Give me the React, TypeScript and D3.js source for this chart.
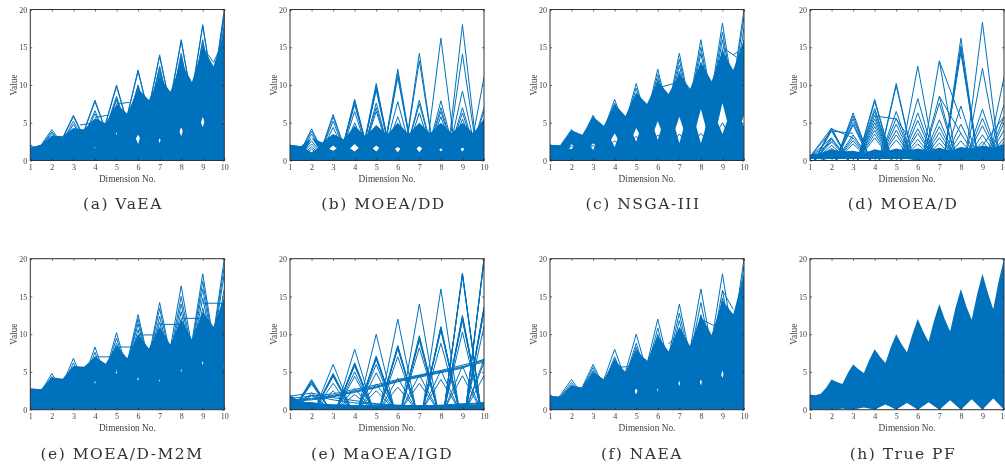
import { useEffect, useRef } from 'react';
import * as d3 from 'd3';

const BLUE = '#0072BD';
const INK = '#404040';
const W = 194;
const H = 151;

const dimensions = [1, 2, 3, 4, 5, 6, 7, 8, 9, 10];
const valueTicks = [0, 5, 10, 15, 20];
const halfDims = [1, 1.5, 2, 2.5, 3, 3.5, 4, 4.5, 5, 5.5, 6, 6.5, 7, 7.5, 8, 8.5, 9, 9.5, 10];
const quarterDims = [1, 1.25, 1.5, 1.75, 2, 2.25, 2.5, 2.75, 3, 3.25, 3.5, 3.75, 4, 4.25, 4.5, 4.75, 5, 5.25, 5.5, 5.75, 6, 6.25, 6.5, 6.75, 7, 7.25, 7.5, 7.75, 8, 8.25, 8.5, 8.75, 9, 9.25, 9.5, 9.75, 10];

// (a) VaEA
const vaeaFloor = [1.7, 2.1, 1, 3, 1.1, 4, 1.6, 4.8, 3.4, 5.8, 2.2, 7, 2.3, 7, 3.2, 8, 4.4, 9, 4.8];
const vaeaGapTop = [0, 0, 1, 0.5, 1, 0.5, 1.8, 0.5, 3.7, 1, 3.4, 1, 2.9, 1, 4.4, 1, 5.8, 1.5, 5.4];
const vaeaCeil = [1.7, 2.1, 3.3, 3.2, 4.3, 4.1, 5.6, 4.9, 7.5, 6.2, 9.5, 8, 11, 9.1, 13, 10.4, 15, 12.5, 17];
const vaeaPeaks = [[2.1, 1.9], [4.1, 3.8, 3.6], [6, 5.8, 5.2, 4.8], [8, 7.8, 6.6, 6.2], [10, 9.8, 8.5, 8.2, 8], [12, 11.8, 10, 9.8, 9.6], [14, 13.8, 12.5, 12.2, 11.8, 11.4, 11], [16, 15.8, 14.2, 13.8, 13.4, 13, 12.5], [18, 17.8, 16, 15.7, 15.2, 14.8, 14.5, 14, 13.5], [20, 19.5, 19, 18, 17.5, 16.8, 15.8, 15]];
const vaeaSegments = [[3.3, 4.7, 4, 5], [4, 5.7, 4.6, 6], [5, 7.5, 5.6, 7.7], [9, 15, 9.5, 13], [9.5, 13, 10, 16]];

// (b) MOEA/DD
const moeaddFloor = [2.1, 1.9, 1.1, 2, 1.3, 2.2, 1.2, 2.5, 1.2, 2.8, 1.1, 3, 1.1, 3.1, 1.2, 3, 1.2, 3.2, 4.5];
const moeaddGapTop = [0, 0, 3, 0.8, 2, 0.8, 2.2, 0.8, 2, 0.8, 1.8, 0.8, 1.9, 0.8, 1.6, 0.8, 1.7, 1, 3];
const moeaddCeil = [2.1, 1.9, 3, 2.4, 3.5, 2.8, 4.6, 3.2, 4.7, 3.4, 5, 3.5, 5, 3.6, 5, 3.6, 5, 3.6, 5.5];
const moeaddPeaks = [[2.1], [4.2, 3.9, 3.5, 2.6, 2.2, 1.8, 1.5], [6.1, 5.8, 5.2, 4.4, 3.2, 2.6, 2.2], [8.1, 7.9, 7.7, 7.4, 6.5, 5, 2.9], [10.2, 9.9, 9.6, 9.3, 7.6, 7, 6.5, 3.1], [12.1, 11.5, 11, 7.8, 5.8, 2.7], [14.2, 13.2, 8, 7.5, 6.3, 3.6, 2.8], [16.2, 7.9, 7, 6.5, 5.8, 2.4], [18, 14.1, 9.2, 7, 6.3, 5.5, 2.7], [11, 7, 6.5, 5.5]];

// (c) NSGA-III
const nsgaFloor = [2.1, 2, 1.5, 3.4, 1.4, 4.6, 1.8, 5.9, 2.5, 7, 2.7, 7.5, 2.3, 7.5, 2.3, 7, 3.5, 7.5, 4.5];
const nsgaGapTop = [0, 0, 2.2, 0.5, 2.3, 1, 3.6, 1, 4.3, 1.5, 5.2, 1.5, 5.8, 1.5, 6.8, 1.5, 7.6, 2, 6];
const nsgaCeil = [2.1, 2, 4, 3.4, 5.8, 4.6, 7.5, 5.9, 9, 7.5, 10.5, 8.8, 11.5, 9.5, 13, 10.5, 14.5, 12, 16];
const nsgaPeaks = [[2.1, 2], [4.1, 3.9, 3.7, 3.5, 1.9], [6, 5.7, 5.4, 2], [8.1, 7.6, 7.2, 6.8, 2.6], [10.2, 9.6, 8.8, 8.2, 3.2], [12.1, 11.4, 10.8, 10, 9, 3.4], [14.2, 13.4, 12.6, 11.8, 10.8, 3.5], [16, 15, 14.2, 13, 12, 3.6], [18.2, 17, 16, 14.8, 13.8, 12.5, 5], [20, 19, 17.5, 16, 14]];
const nsgaSegments = [[6, 9.6, 7, 10.4], [9, 15, 9.7, 13.6], [9.5, 14, 10, 15]];

// (d) MOEA/D
const moeadFloor = [0, 0, 0, 0, 0, 0, 0, 0, 0, 0, 0, 0, 0, 0, 0, 0, 0, 0, 0];
const moeadGapTop = [0.2, 0.2, 0.2, 0.2, 0.2, 0.2, 0.2, 0.2, 0.2, 0.2, 0, 0, 0, 0, 0, 0, 0, 0, 0];
const moeadCeil = [0.8, 1, 1.5, 1.2, 1.3, 1, 1.5, 1.2, 1.6, 1.3, 1.6, 1.3, 1.7, 1.3, 1.8, 1.6, 2, 1.7, 2.2];
const moeadPeaks = [[0.6], [4.3, 4.1, 3.9, 3, 2.8, 2.5, 2, 1.6], [6.3, 5.9, 5.5, 5, 4.7, 3.4, 3, 2.6, 2.2], [8.1, 7.8, 6.9, 6.5, 6, 5.5, 5, 4.5, 4, 3.5, 3], [10.2, 9.9, 6.5, 5.6, 4.8, 4, 3.4, 2.7], [12.5, 8.2, 6.3, 5.3, 4.2, 3.6, 2.8, 2.2], [13.2, 8.5, 7.6, 5.4, 4.5, 3.7, 3, 2.3], [16.2, 15.2, 14.8, 14.3, 7.2, 4.8, 3.6, 2.6], [18.3, 12.2, 6.8, 5.6, 4.6, 3.4, 2.5], [11, 7.4, 5.8, 5, 4, 3, 2.5]];
const moeadSegments = [[1, 0.5, 2, 4.3], [1, 0.5, 2, 3.9], [1, 0.5, 2, 3], [1, 0.5, 2, 2.4], [2, 4.2, 3, 3], [2, 3.9, 3, 3.6], [7, 13.2, 8, 5.5], [7, 8.5, 8, 3.6], [4, 5.9, 5, 5.5], [5, 5.5, 5.6, 3], [9, 2, 10, 5.8]];

// (e) MOEA/D-M2M
const m2mFloor = [2.8, 2.7, 2.2, 4, 2.7, 5, 3.4, 5.5, 4.8, 6, 3.8, 6.5, 3.7, 7, 5, 7.5, 6, 8, 5.5];
const m2mGapTop = [0, 0, 2.2, 0.5, 2.7, 1, 3.8, 1, 5.4, 1, 4.3, 1, 4, 1, 5.4, 1, 6.5, 1, 6];
const m2mCeil = [2.8, 2.7, 4.3, 4.1, 5.8, 5.7, 7, 6.1, 8.5, 6.8, 10, 8.1, 11, 8.6, 12, 9.3, 13, 11, 15];
const m2mPeaks = [[2.8, 2.7], [4.8, 4.4, 4.1], [6.8, 6.2, 5.6, 4.8], [8.3, 7.6, 7, 6.6, 3.6], [10.2, 9.5, 8.8, 8, 7.5, 5.2], [12.6, 12, 11.4, 10.6, 9.8, 9, 4], [14.2, 13.4, 12.4, 11.6, 10.8, 9.8, 8.8], [16.4, 15, 14, 13, 12, 11, 10, 7.5], [18, 17, 16, 14.8, 13.5, 12.2, 11, 8.5], [20, 19, 18, 16, 14.2, 12.8, 11]];
const m2mSegments = [[3, 5.6, 4, 5.6], [4, 7, 5, 7], [5, 8.3, 6, 8.3], [6, 9.9, 7, 9.9], [7, 11.3, 8, 11.3], [8, 12.1, 9, 12.1], [9, 14.1, 10, 14.1]];

// (e) MaOEA/IGD
const igdFloor = [1.9, 1, 1, 0.8, 0.7, 0.7, 0.6, 0.6, 0.6, 0.6, 0.6, 0.6, 0.6, 0.6, 0.6, 0.6, 0.7, 0.6, 1];
const igdGapTop = [0, 0, 0, 0, 0, 0, 0, 0, 0, 0, 0, 0, 0, 0, 0, 0, 0, 0, 0];
const igdCeil = [1.9, 1, 1, 0.8, 0.7, 0.7, 0.6, 0.6, 0.6, 0.6, 0.6, 0.6, 0.6, 0.6, 0.6, 0.6, 0.7, 0.6, 1];
const igdPeaks = [[1.9, 1.6], [4, 3.8, 3.7, 3.6, 3.4, 2.2, 1.9], [6, 4.8, 4.7, 4.6, 4.5, 4.4, 3.5, 2.5], [8, 6.2, 6.1, 6, 5.9, 5.8, 5, 4.4, 2.8, 2], [10, 7.1, 7, 6.9, 6.8, 6.7, 6, 4.9, 3.4, 2.5], [12, 8.5, 8.4, 8.3, 8.2, 8.1, 7, 4.2, 3], [14, 9.8, 9.6, 9.5, 9.4, 9.2, 8.2, 4.6, 3.5], [16, 11, 10.9, 10.8, 10.7, 10.5, 8.8, 5.2, 4], [18.1, 18, 17.9, 17.8, 12.5, 12.3, 12.2, 12, 11.9, 10.3, 5.8, 4.5], [20, 19.9, 19.8, 19.7, 13.6, 13.4, 13.3, 13.1, 13, 11, 6.7, 6.2, 4.5]];
const igdRows = [
  [1.3, 1.5, 1.9, 2.5, 3.1, 3.9, 4.5, 5.1, 5.7, 6.5],
  [1.2, 1.4, 1.8, 2.4, 3, 3.8, 4.4, 5, 5.6, 6.3],
  [1.1, 1.3, 1.7, 2.3, 2.9, 3.7, 4.3, 4.9, 5.5, 6.7],
  [1.5, 1.8, 2.1, 2.7, 3.3, 4, 4.6, 5.2, 5.9, 6.6],
  [1.8, 2.2, 1.6, 1.2, 0.8, 0.6, 0.5, 0.5, 0.6, 0.9],
  [0.8, 1.9, 1.3, 0.9, 0.7, 0.5, 0.4, 0.5, 0.7, 0.8],
  [1.6, 0.6, 0.5, 0.4, 0.4, 0.4, 0.5, 0.6, 0.8, 0.9],
];

// (f) NAEA
const naeaFloor = [1.8, 1.7, 3.2, 2.9, 5, 4, 1.2, 5, 2, 6.4, 2.4, 7.7, 3.1, 8.4, 3.2, 8, 4.2, 9, 4.2];
const naeaGapTop = [0, 0, 0, 0, 0, 0, 1.2, 0.5, 2.8, 0.5, 2.8, 0.5, 3.8, 0.5, 4, 0.5, 5.2, 0.5, 4.6];
const naeaCeil = [1.8, 1.7, 3.2, 2.9, 5, 4, 6.6, 5, 8, 6.4, 9.8, 7.7, 11, 8.4, 12.5, 9.9, 14.5, 12.6, 18];
const naeaPeaks = [[2, 1.8], [4, 3.6, 3.3], [6, 5.6, 5.2], [8, 7, 6.7], [10, 8.8, 8.3], [12, 10.8, 10], [14, 12.8, 11.8], [16, 14.2, 12.6, 11.2], [18, 15.8, 14.8, 13.8], [20, 19, 17.5, 16]];
const naeaSegments = [[8, 12, 8.7, 11], [9, 13, 9.7, 12.5], [9, 15.8, 9.5, 13.3], [6.5, 8.7, 7, 10.2], [4, 5.6, 4.6, 5.7], [5, 7.4, 5.5, 6.5]];

// (h) True PF
const trueCeil = [2, 1.9, 2.1, 2.9, 4, 3.67, 3.4, 4.83, 6, 5.37, 4.85, 6.58, 8, 7, 6.2, 8.29, 10, 8.68, 7.6, 10, 12, 10.35, 9, 11.75, 14, 12, 10.4, 13.5, 16, 13.7, 11.9, 15.25, 18, 15.5, 13.3, 17, 20];
const trueGapTop = [0, 0, 0, 0, 0, 0, 0.15, 0, 0, 0.15, 0.3, 0.15, 0, 0.35, 0.7, 0.35, 0, 0.45, 0.9, 0.45, 0, 0.5, 1, 0.5, 0, 0.62, 1.25, 0.62, 0, 0.7, 1.4, 0.7, 0, 0.75, 1.5, 0.75, 0];

type Panel = {
  caption: string; left: number; top: number; captionX: number; captionY: number;
  grid: number[]; floor?: number[]; gapTop: number[]; ceil: number[];
  peaks?: number[][]; foot?: number; segments?: number[][]; rows?: number[][];
};

const panels: Panel[] = [
  { caption: '(a) VaEA', left: 30.3, top: 9.5, captionX: 123, captionY: 209, grid: halfDims, floor: vaeaFloor, gapTop: vaeaGapTop, ceil: vaeaCeil, peaks: vaeaPeaks, foot: 1, segments: vaeaSegments },
  { caption: '(b) MOEA/DD', left: 290, top: 9.5, captionX: 383.5, captionY: 209, grid: halfDims, floor: moeaddFloor, gapTop: moeaddGapTop, ceil: moeaddCeil, peaks: moeaddPeaks, foot: 0.72 },
  { caption: '(c) NSGA-III', left: 550, top: 9.5, captionX: 643, captionY: 209, grid: halfDims, floor: nsgaFloor, gapTop: nsgaGapTop, ceil: nsgaCeil, peaks: nsgaPeaks, foot: 1, segments: nsgaSegments },
  { caption: '(d) MOEA/D', left: 810, top: 9.5, captionX: 903, captionY: 209, grid: halfDims, floor: moeadFloor, gapTop: moeadGapTop, ceil: moeadCeil, peaks: moeadPeaks, foot: 0.8, segments: moeadSegments },
  { caption: '(e) MOEA/D-M2M', left: 30.3, top: 258.7, captionX: 122, captionY: 459, grid: halfDims, floor: m2mFloor, gapTop: m2mGapTop, ceil: m2mCeil, peaks: m2mPeaks, foot: 1, segments: m2mSegments },
  { caption: '(e) MaOEA/IGD', left: 290, top: 258.7, captionX: 382, captionY: 459, grid: halfDims, floor: igdFloor, gapTop: igdGapTop, ceil: igdCeil, peaks: igdPeaks, foot: 0.85, rows: igdRows },
  { caption: '(f) NAEA', left: 550, top: 258.7, captionX: 642, captionY: 459, grid: halfDims, floor: naeaFloor, gapTop: naeaGapTop, ceil: naeaCeil, peaks: naeaPeaks, foot: 1, segments: naeaSegments },
  { caption: '(h) True PF', left: 810, top: 258.7, captionX: 903, captionY: 459, grid: quarterDims, gapTop: trueGapTop, ceil: trueCeil },
];

export default function App() {
  const svgRef = useRef<SVGSVGElement>(null);

  useEffect(() => {
    const root = d3.select(svgRef.current);
    root.selectAll('*').remove();

    // the source is a soft, low resolution raster
    root.append('filter').attr('id', 'soft')
      .attr('filterUnits', 'userSpaceOnUse').attr('x', 0).attr('y', 0)
      .attr('width', 1005).attr('height', 467)
      .append('feGaussianBlur').attr('stdDeviation', 0.4);
    const svg = root.append('g').attr('filter', 'url(#soft)');

    const x = d3.scaleLinear().domain([1, 10]).range([0, W]);
    const y = d3.scaleLinear().domain([0, 20]).range([H, 0]);
    const line = d3.line<number[]>().x(d => x(d[0])).y(d => y(d[1]));

    panels.forEach((p, i) => {
      const g = svg.append('g').attr('transform', `translate(${p.left},${p.top})`);
      const clipId = `plot-${i}`;
      g.append('clipPath').attr('id', clipId).append('rect').attr('width', W).attr('height', H);
      const plot = g.append('g').attr('clip-path', `url(#${clipId})`);

      // the solid mass of overlapping lines
      const band = (lo: number[], hi: number[]) => {
        const area = d3.area<number>()
          .x(d => x(d))
          .y0((_, k) => y(lo[k]))
          .y1((_, k) => y(hi[k]));
        plot.append('path').attr('d', area(p.grid)).attr('fill', BLUE);
      };
      if (p.floor) band(p.grid.map(() => 0), p.floor);
      band(p.gapTop, p.ceil);

      const stroke = (pts: number[][]) =>
        plot.append('path').attr('d', line(pts)).attr('fill', 'none')
          .attr('stroke', BLUE).attr('stroke-width', 1);

      (p.peaks || []).forEach((vals, k) => {
        vals.forEach(v => stroke([[dimensions[k] - p.foot!, 0], [dimensions[k], v], [dimensions[k] + p.foot!, 0]]));
      });
      (p.segments || []).forEach(s => stroke([[s[0], s[1]], [s[2], s[3]]]));
      (p.rows || []).forEach(r => stroke(r.map((v, k) => [dimensions[k], v])));

      // box and ticks pointing inward
      const styleAxis = (a: d3.Selection<SVGGElement, unknown, null, undefined>) => {
        a.selectAll('line').attr('stroke', '#262626').attr('stroke-width', 0.7);
        a.selectAll('text').attr('fill', INK).attr('font-size', 8).attr('font-family', '"Liberation Serif", serif');
        a.select('.domain').remove();
      };
      const noLabel = () => '';
      g.append('g').attr('transform', `translate(0,${H})`)
        .call(d3.axisBottom(x).tickValues(dimensions).tickSize(-2).tickPadding(4).tickFormat(d3.format('d') as any))
        .call(styleAxis as any);
      g.append('g').call(d3.axisTop(x).tickValues(dimensions).tickSize(-2).tickFormat(noLabel)).call(styleAxis as any);
      g.append('g')
        .call(d3.axisLeft(y).tickValues(valueTicks).tickSize(-2).tickPadding(3).tickFormat(d3.format('d') as any))
        .call(styleAxis as any);
      g.append('g').attr('transform', `translate(${W},0)`)
        .call(d3.axisRight(y).tickValues(valueTicks).tickSize(-2).tickFormat(noLabel))
        .call(styleAxis as any);
      g.append('rect').attr('width', W).attr('height', H).attr('fill', 'none')
        .attr('stroke', '#303030').attr('stroke-width', 1);

      g.append('text').attr('x', W / 2).attr('y', H + 21).attr('text-anchor', 'middle')
        .attr('font-family', '"Liberation Serif", serif').attr('font-size', 9.3).attr('fill', INK)
        .text('Dimension No.');
      g.append('text').attr('transform', `translate(-13,${H / 2}) rotate(-90)`).attr('text-anchor', 'middle')
        .attr('font-family', '"Liberation Serif", serif').attr('font-size', 9.3).attr('fill', INK)
        .text('Value');

      svg.append('text').attr('x', p.captionX).attr('y', p.captionY).attr('text-anchor', 'middle')
        .attr('font-family', '"DejaVu Serif", serif').attr('font-size', 15.5)
        .attr('letter-spacing', 1.5).attr('fill', '#333').text(p.caption);
    });
  }, []);

  return (
    <svg ref={svgRef} width={1005} height={467}
      style={{ position: 'absolute', left: 0, top: 0, background: '#fff' }} />
  );
}
